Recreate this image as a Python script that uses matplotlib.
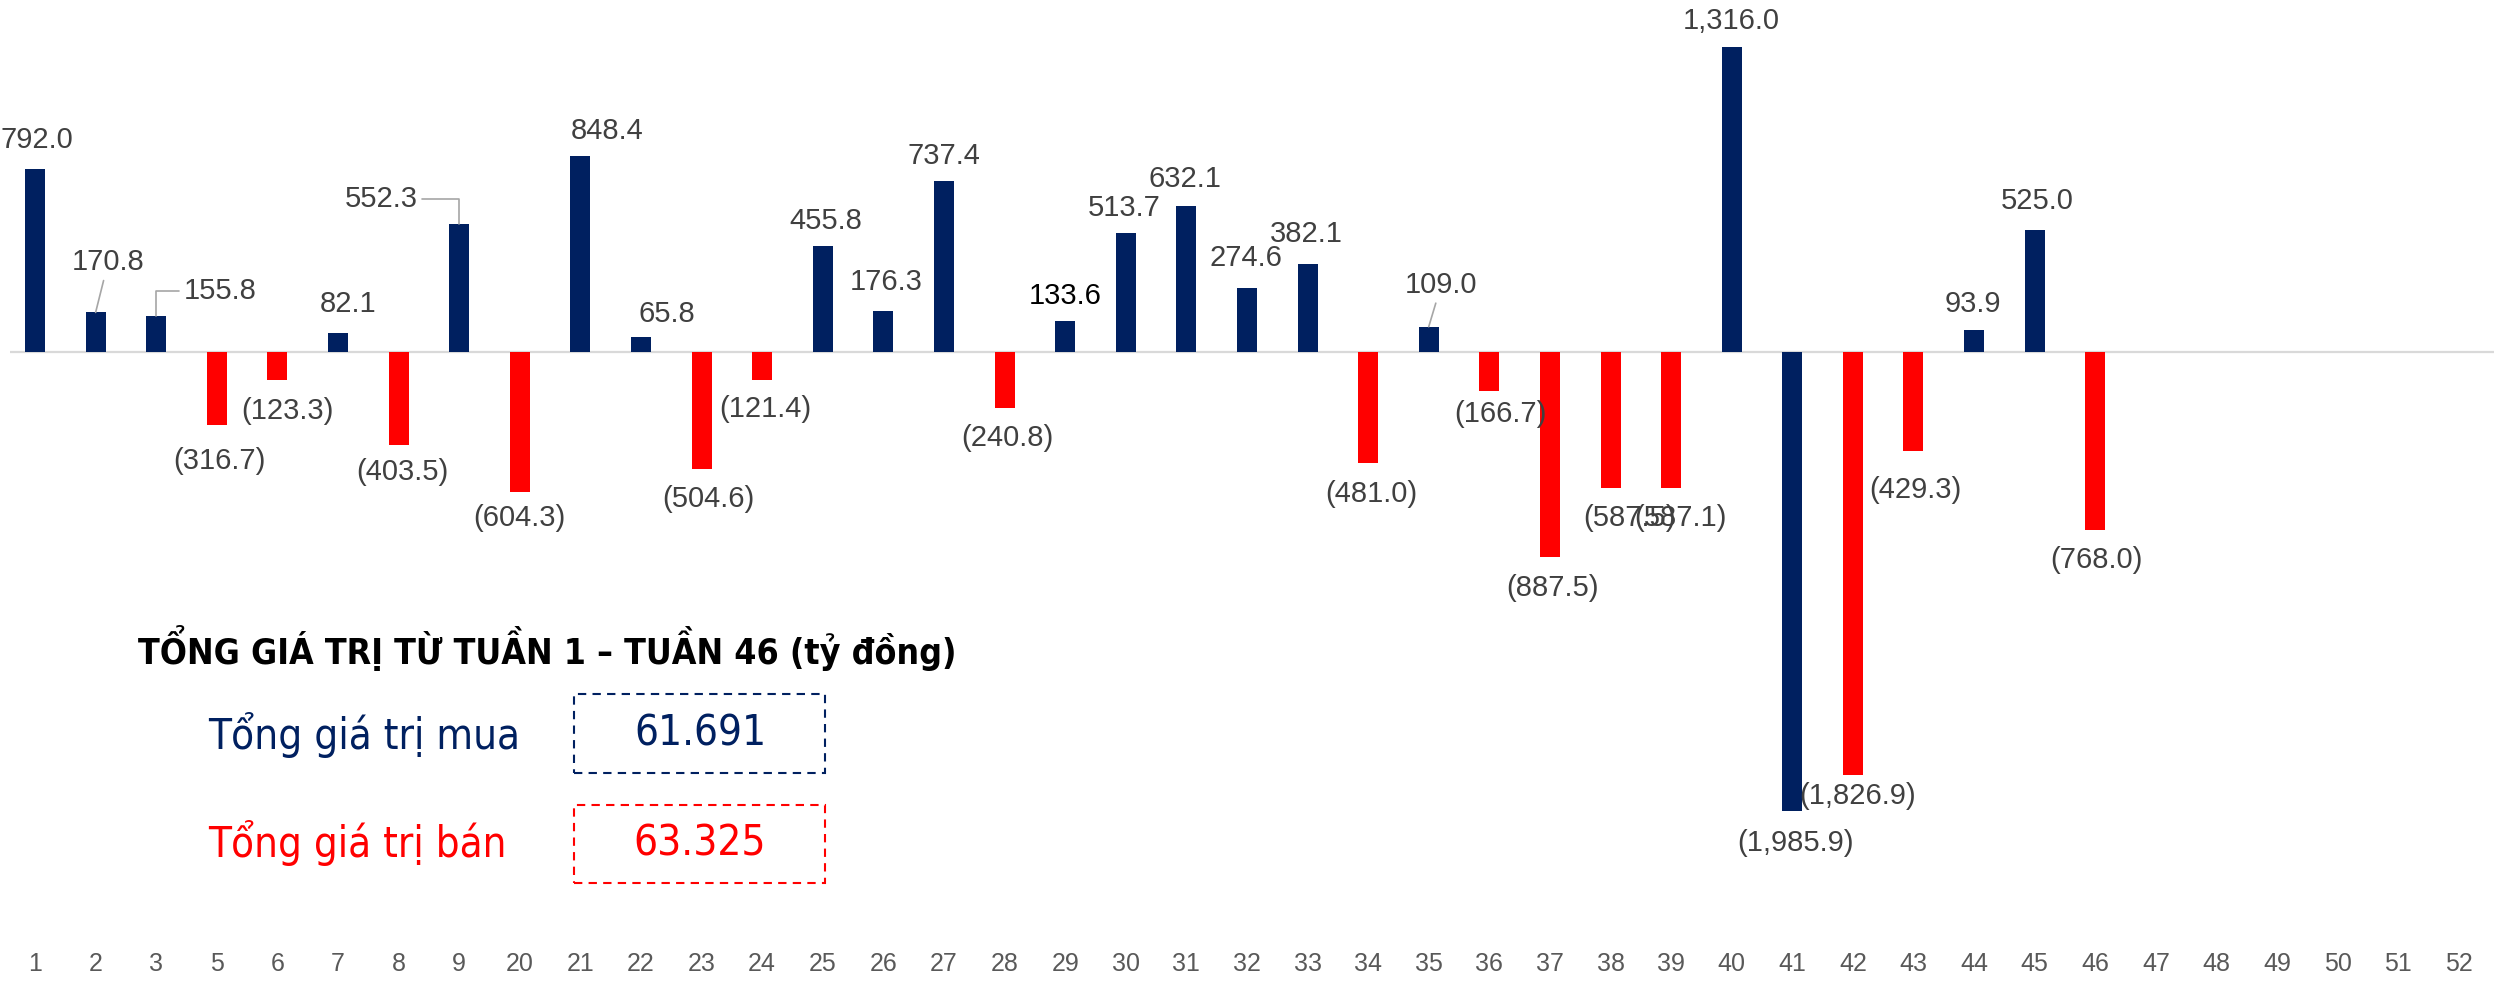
import numpy as np
import matplotlib.pyplot as plt
from matplotlib.patches import Rectangle

# weeks shown on the x axis
weeks = ["1", "2", "3", "5", "6", "7", "8", "9", "20", "21", "22", "23", "24",
         "25", "26", "27", "28", "29", "30", "31", "32", "33", "34", "35", "36",
         "37", "38", "39", "40", "41", "42", "43", "44", "45", "46", "47", "48",
         "49", "50", "51", "52"]

# net value per week (ty dong), weeks 47-52 have no data
values = [792.0, 170.8, 155.8, -316.7, -123.3, 82.1, -403.5, 552.3,
          -604.3, 848.4, 65.8, -504.6, -121.4, 455.8, 176.3, 737.4, -240.8,
          133.6, 513.7, 632.1, 274.6, 382.1, -481.0, 109.0, -166.7, -887.5,
          -587.5, -587.1, 1316.0, -1985.9, -1826.9, -429.3, 93.9, 525.0, -768.0]

blue_weeks = ["41"]  # negative bar drawn in blue

total_buy = "61.691"
total_sell = "63.325"

NAVY = "#002060"
RED = "#FF0000"
GREY = "#404040"

# label offsets in points (dx, dy) from the bar end
label_off = [(1, 21), (9, 36), (46, 18), (2, -26), (7, -22), (7, 21), (3, -19), (-56, 18),
             (0, -19), (19, 18), (19, 16), (5, -22), (2, -21), (2, 18), (2, 21), (0, 18),
             (2, -22), (0, 18), (-1, 18), (-1, 19), (-1, 22), (-1, 21), (2, -22), (9, 30),
             (8, -17), (2, -22), (14, -22), (7, -22), (0, 19), (2, -23), (3, -15), (1, -28),
             (-1, 19), (2, 21), (1, -22)]
leaders = {1: "arc3", 2: "angle,angleA=0,angleB=90,rad=0",
           7: "angle,angleA=0,angleB=90,rad=0", 23: "arc3"}

W, H = 2494, 982
fig = plt.figure(figsize=(W / 100, H / 100), dpi=100)
ax = fig.add_axes([0, 1 - 945 / H, 1, 945 / H])

x = np.arange(len(weeks))
n = len(values)
colors = []
for w, v in zip(weeks[:n], values):
    colors.append(NAVY if (v > 0 or w in blue_weeks) else RED)
ax.bar(x[:n], values, width=0.33, color=colors, zorder=3)
ax.hlines(0, -0.42, 40.58, color="#d9d9d9", lw=1.6, zorder=2)

for i, v in enumerate(values):
    txt = f"{v:,.1f}" if v > 0 else f"({abs(v):,.1f})"
    c = "black" if weeks[i] == "29" else GREY
    kw = {}
    if i in leaders:
        kw["arrowprops"] = dict(arrowstyle="-", color="#a6a6a6", lw=1.2,
                                shrinkA=1, shrinkB=0, connectionstyle=leaders[i])
    ax.annotate(txt, (i, v), xytext=label_off[i], textcoords="offset points",
                ha="center", va="center", fontsize=21, color=c,
                family="Liberation Sans", zorder=4, **kw)

ax.set_xlim(-0.578, 40.58)
ax.set_ylim(-2563, 1521)
ax.set_xticks(x)
ax.set_xticklabels(weeks, fontsize=18, color="#595959", family="Liberation Sans")
ax.tick_params(axis="x", length=0, pad=5)
ax.set_yticks([])
for s in ax.spines.values():
    s.set_visible(False)

renderer = fig.canvas.get_renderer()
fams = ["DejaVu Sans"]


def fit_text(px, py, w, s, color, bold=False, ha="left"):
    t = fig.text(px / W, 1 - py / H, s, color=color, ha=ha, va="center",
                 fontsize=20, fontweight="bold" if bold else "normal",
                 family=fams, fontstretch="condensed")
    bb = t.get_window_extent(renderer)
    t.set_fontsize(20 * w / bb.width)
    return t


fit_text(138, 648, 818, "TỔNG GIÁ TRỊ TỪ TUẦN 1 – TUẦN 46 (tỷ đồng)", "black", bold=True)
fit_text(208, 735, 312, "Tổng giá trị mua", NAVY)
fit_text(208, 843, 299, "Tổng giá trị bán", RED)
fit_text(700, 734, 132, total_buy, NAVY, ha="center")
fit_text(700, 844, 132, total_sell, RED, ha="center")

for y0, y1, c in [(694, 773, NAVY), (805, 883, RED)]:
    fig.patches.append(Rectangle((574 / W, 1 - y1 / H), 251 / W, (y1 - y0) / H,
                                 transform=fig.transFigure, fill=False,
                                 edgecolor=c, lw=1.5, ls=(0, (4, 3))))

fig.savefig("out.png", dpi=100)
